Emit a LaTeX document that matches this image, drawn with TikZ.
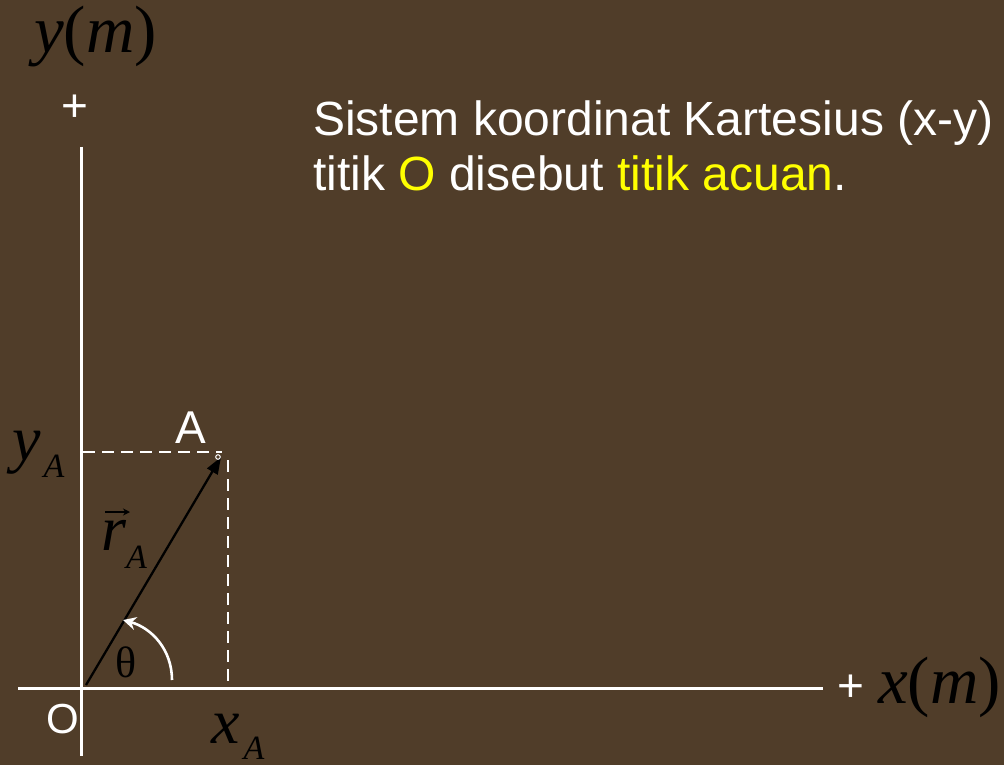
\documentclass[tikz,border=0pt]{standalone}
\usepackage{fontspec}
\setmainfont{Liberation Sans}
\newfontfamily\tnr{Liberation Serif}
\usetikzlibrary{arrows.meta}
\definecolor{bg}{RGB}{80,61,41}
\definecolor{hl}{RGB}{255,255,0}
\newcommand{\subA}[1]{\raisebox{#1}{\fontsize{34}{34}\selectfont A}}
\begin{document}
\begin{tikzpicture}[x=1pt,y=-1pt,
  axis/.style={white,line width=3pt},
  dashline/.style={white,line width=2.6pt,dash pattern=on 12pt off 7pt},
  sanslbl/.style={white,inner sep=0pt,font=\fontsize{46}{46}\selectfont},
  mathlbl/.style={black,inner sep=0pt,font=\fontsize{64}{64}\tnr\itshape},
  vec/.style={black,line width=2.3pt,-{Triangle[length=17pt,width=12pt]}},
  anglearrow/.style={white,line width=2.6pt,-{Stealth[length=13pt,width=13pt]}}]
\fill[bg] (0,0) rectangle (1004,765);
\useasboundingbox (0,0) rectangle (1004,765);
% points
\coordinate (O) at (86,685);
\coordinate (A) at (221,457);
\coordinate (xl) at (18,688);
\coordinate (xr) at (823,688);
\coordinate (yt) at (81,147);
\coordinate (yb) at (81,756);
\coordinate (yAd) at (83,452);
\coordinate (xAd) at (228,688);
\coordinate (Ah) at (222,452);
\coordinate (Av) at (228,460);
\coordinate (arcS) at (172,680);
\coordinate (arcE) at (123,620);
% axes
\draw[axis] (xl) -- (xr);
\draw[axis] (yt) -- (yb);
% dashed projections
\draw[dashline] (yAd) -- (Ah);
\draw[dashline] (Av) -- (xAd);
% position vector
\draw[vec] (O) -- (A);
\draw[white,line width=1pt] (218,457) circle (2.3pt);
% angle arrow
\draw[anglearrow] (arcS) .. controls (172,650) and (152,628) .. (arcE);
% labels
\node[sanslbl] (plusy) at (75,108) {+};
\node[sanslbl] (plusx) at (851,688) {+};
\node[sanslbl,anchor=base] (lblA) at (191,443) {A};
\node[sanslbl,anchor=base,font=\fontsize{42}{42}\selectfont] (lblO) at (63,733) {O};
\node[mathlbl,anchor=base west,font=\fontsize{67}{67}\tnr\itshape] (ym) at (34,53) {y\/\upshape(\itshape m\/\upshape)};
\node[mathlbl,anchor=base west,font=\fontsize{67}{67}\tnr\itshape] (xm) at (878,703) {x\/\upshape(\itshape m\/\upshape)};
\node[mathlbl,anchor=base west] (yA) at (12,460) {y\hspace{3pt}\subA{-17pt}};
\node[mathlbl,anchor=base west] (xA) at (211,743) {x\hspace{4pt}\subA{-16pt}};
\node[mathlbl,anchor=base west] (rA) at (101,550) {r\hspace{0pt}\subA{-18pt}};
\draw[black,line width=1.6pt,-{Stealth[length=7pt,width=7pt]}] (105,512) -- (130,512);
\node[black,inner sep=0pt,anchor=base,font=\fontsize{44}{44}\tnr] (th) at (126,677) {θ};
\node[white,inner sep=0pt,anchor=base west,align=left,font=\fontsize{48}{55}\selectfont] (title) at (313,190)
  {Sistem koordinat Kartesius (x-y)\\titik \textcolor{hl}{O} disebut \textcolor{hl}{titik acuan}.};
\end{tikzpicture}
\end{document}
